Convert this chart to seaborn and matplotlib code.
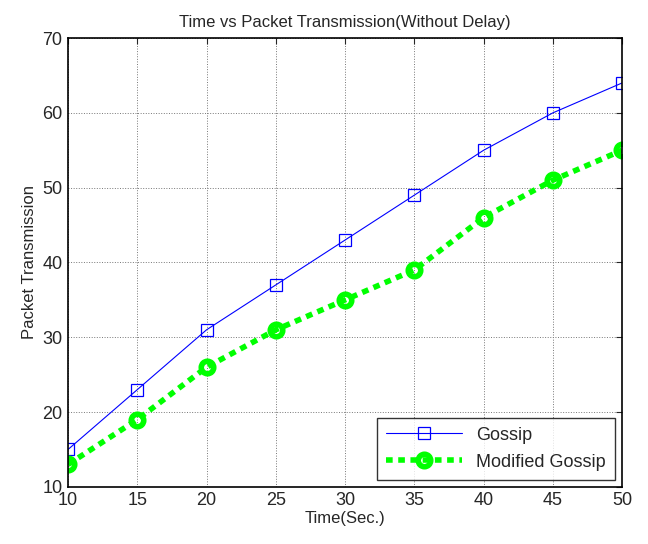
import pandas as pd
import matplotlib.pyplot as plt
import seaborn as sns

# values
time_sec = [10, 15, 20, 25, 30, 35, 40, 45, 50]
gossip = [15, 23, 31, 37, 43, 49, 55, 60, 64]
modified_gossip = [13, 19, 26, 31, 35, 39, 46, 51, 55]

df = pd.DataFrame({'Time': time_sec, 'Gossip': gossip, 'Modified Gossip': modified_gossip})

sns.set_style('white')
plt.rcParams['font.family'] = ['Liberation Sans', 'DejaVu Sans']

fig, ax = plt.subplots(figsize=(6.48, 5.44), dpi=100)
fig.subplots_adjust(left=0.105, right=0.96, top=0.93, bottom=0.105)

sns.lineplot(data=df, x='Time', y='Gossip', ax=ax, color='blue', linewidth=0.8,
             marker='s', markersize=9, markerfacecolor='none', markeredgecolor='blue',
             markeredgewidth=0.9, label='Gossip')
sns.lineplot(data=df, x='Time', y='Modified Gossip', ax=ax, color='#00ff00', linewidth=4,
             linestyle=(0, (1.2, 1.0)), marker='o', markersize=9, markerfacecolor='none',
             markeredgecolor='#00ff00', markeredgewidth=4, label='Modified Gossip')

ax.set_xlim(10, 50)
ax.set_ylim(10, 70)
ax.set_xticks(time_sec)
ax.set_yticks(range(10, 71, 10))
ax.grid(True, linestyle=':', color='#777777', linewidth=0.7)
ax.tick_params(direction='in', length=4, labelsize=13, pad=4, top=True, right=True,
               labeltop=False, labelright=False)
for s in ax.spines.values():
    s.set_color('black')
    s.set_linewidth(1.2)

ax.set_xlabel('Time(Sec.)', fontsize=12, labelpad=1)
ax.set_ylabel('Packet Transmission', fontsize=12, labelpad=4)
ax.set_title('Time vs Packet Transmission(Without Delay)', fontsize=12, pad=8)

leg = ax.legend(loc='lower right', fontsize=13, frameon=True, fancybox=False,
                edgecolor='black', handlelength=4.2, borderaxespad=0.4,
                labelspacing=0.55, borderpad=0.5)
leg.get_frame().set_linewidth(1.0)

fig.savefig('out.png', dpi=100, facecolor='white')
